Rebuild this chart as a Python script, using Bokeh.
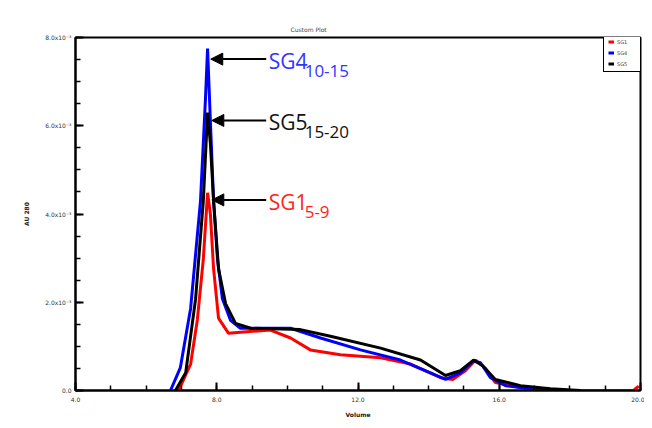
from bokeh.plotting import figure
from bokeh.models import (ColumnDataSource, FixedTicker, Arrow, NormalHead,
                          Legend, LegendItem)
from bokeh.core.properties import value
from bokeh.embed import file_html
from bokeh.resources import INLINE

# ---- data (volume in mL, absorbance) ----
sg4_x = [6.69, 6.97, 7.26, 7.54, 7.68, 7.74, 7.82, 7.91, 8.02, 8.16, 8.39, 8.67,
         10.09, 10.94, 12.07, 13.20, 14.05, 14.48, 14.90, 15.27, 15.47, 15.75,
         16.18, 16.88, 17.73]
sg4_y = [0.0, 0.52, 1.86, 4.3, 6.6, 7.75, 6.1, 4.3, 2.98, 2.08, 1.59, 1.41,
         1.41, 1.19, 0.92, 0.69, 0.40, 0.25, 0.40, 0.67, 0.63, 0.29,
         0.11, 0.04, 0.0]

sg5_x = [6.83, 7.12, 7.40, 7.62, 7.74, 7.82, 7.91, 8.05, 8.25, 8.53, 8.96,
         10.37, 11.22, 12.64, 13.77, 14.48, 14.90, 15.27, 15.53, 15.89,
         16.60, 17.45, 18.30]
sg5_y = [0.0, 0.4, 2.07, 4.3, 6.3, 5.6, 4.3, 2.76, 1.97, 1.52, 1.41,
         1.38, 1.23, 0.96, 0.69, 0.34, 0.45, 0.69, 0.56, 0.25,
         0.11, 0.04, 0.0]

sg1_x = [6.92, 7.26, 7.45, 7.62, 7.74, 7.82, 7.91, 8.05, 8.33, 8.67, 9.52,
         10.09, 10.65, 11.50, 12.64, 13.49, 14.34, 14.68, 15.04, 15.33,
         15.61, 15.89, 16.60, 17.73, 19.80, 19.95]
sg1_y = [0.0, 0.6, 1.6, 2.98, 4.48, 4.0, 2.76, 1.64, 1.30, 1.32, 1.37,
         1.19, 0.92, 0.81, 0.74, 0.60, 0.29, 0.25, 0.45, 0.69,
         0.50, 0.18, 0.07, 0.0, 0.0, 0.1]

x_ticks = [4, 8, 12, 16, 20]
x_tick_labels = ["4.0", "8.0", "12.0", "16.0", "20.0"]
y_ticks = [0, 2, 4, 6, 8]
y_tick_labels = ["0.0", "2.0x10⁻³", "4.0x10⁻³", "6.0x10⁻³", "8.0x10⁻³"]

series_names = ["SG1", "SG4", "SG5"]
series_colors = ["#ff0000", "#0000ff", "#000000"]

# annotation labels
label_main = ["SG4", "SG5", "SG1"]
label_sub = ["10-15", "15-20", "5-9"]
label_colors = ["#3333ff", "#111111", "#ff2222"]
arrow_x_start = [9.4, 9.4, 9.4]
arrow_x_end = [7.83, 7.86, 7.86]
arrow_y = [7.51, 6.12, 4.32]
label_x = [9.47, 9.47, 9.47]

p = figure(width=644, height=420, output_backend="svg", toolbar_location=None,
           x_range=(4, 20), y_range=(0, 8),
           min_border_left=75, min_border_right=4, min_border_top=37,
           min_border_bottom=27)
p.grid.visible = False
p.outline_line_color = "black"
p.outline_line_width = 2
p.background_fill_color = "white"
p.border_fill_color = "white"

p.title.text = "Custom Plot"
p.title.align = "left"
p.title.offset = 215
p.title.text_font = "DejaVu Sans"
p.title.text_font_size = "6px"
p.title.text_font_style = "normal"
p.title.standoff = 10

ax = p.xaxis[0]
ax.ticker = FixedTicker(ticks=x_ticks, minor_ticks=list(range(4, 21)))
ax.major_label_overrides = {t: l for t, l in zip(x_ticks, x_tick_labels)}
ax.axis_label = "Volume"
ay = p.yaxis[0]
ay.ticker = FixedTicker(ticks=y_ticks, minor_ticks=[i * 0.5 for i in range(17)])
ay.major_label_overrides = {t: l for t, l in zip(y_ticks, y_tick_labels)}
ay.axis_label = "AU 280"
for a in (ax, ay):
    a.axis_line_width = 2
    a.axis_line_color = "black"
    a.major_tick_in = 8
    a.major_tick_out = 0
    a.minor_tick_in = 5
    a.minor_tick_out = 0
    a.major_tick_line_width = 2
    a.minor_tick_line_width = 1.5
    a.major_label_text_font = "DejaVu Sans"
    a.major_label_text_font_size = "6px"
    a.major_label_text_color = "#333333"
    a.axis_label_text_font = "DejaVu Sans"
    a.axis_label_text_font_size = "6px"
    a.axis_label_text_font_style = "bold"
    a.axis_label_text_color = "#222222"
ax.major_label_standoff = 6
ax.axis_label_standoff = 6
ay.major_label_standoff = 4
ay.axis_label_standoff = 12

line_r = []
for xs, ys, c in ((sg1_x, sg1_y, series_colors[0]),
                  (sg4_x, sg4_y, series_colors[1]),
                  (sg5_x, sg5_y, series_colors[2])):
    line_r.append(p.line(xs, ys, line_color=c, line_width=3))

# legend, top-right corner inside the frame
legend = Legend(items=[LegendItem(label=n, renderers=[r]) for n, r in zip(series_names, line_r)],
                location=(528, 318), label_text_font_size="5px",
                label_text_font="DejaVu Sans", label_standoff=3,
                glyph_width=6, glyph_height=7, label_height=7,
                spacing=4, padding=4, margin=0,
                border_line_color="black", border_line_width=1,
                border_line_alpha=1.0, background_fill_alpha=1.0)
p.add_layout(legend, "center")

# arrows
asrc = ColumnDataSource(dict(x0=arrow_x_start, x1=arrow_x_end, y=arrow_y))
p.add_layout(Arrow(source=asrc, x_start="x0", y_start="y", x_end="x1", y_end="y",
                   line_color="black", line_width=2,
                   end=NormalHead(size=12, fill_color="black", line_color="black")))

lsrc = ColumnDataSource(dict(x=label_x, y=arrow_y, t=label_main, s=label_sub,
                             c=label_colors))
p.text(x="x", y="y", text="t", text_color="c", source=lsrc,
       text_font=value("Open Sans"), text_font_size="21px",
       text_baseline="middle", text_align="left", y_offset=2)
p.text(x="x", y="y", text="s", text_color="c", source=lsrc,
       text_font=value("Open Sans"), text_font_size="17px",
       text_baseline="middle", text_align="left", x_offset=36, y_offset=12)

open("out.html", "w").write(file_html(p, INLINE))
